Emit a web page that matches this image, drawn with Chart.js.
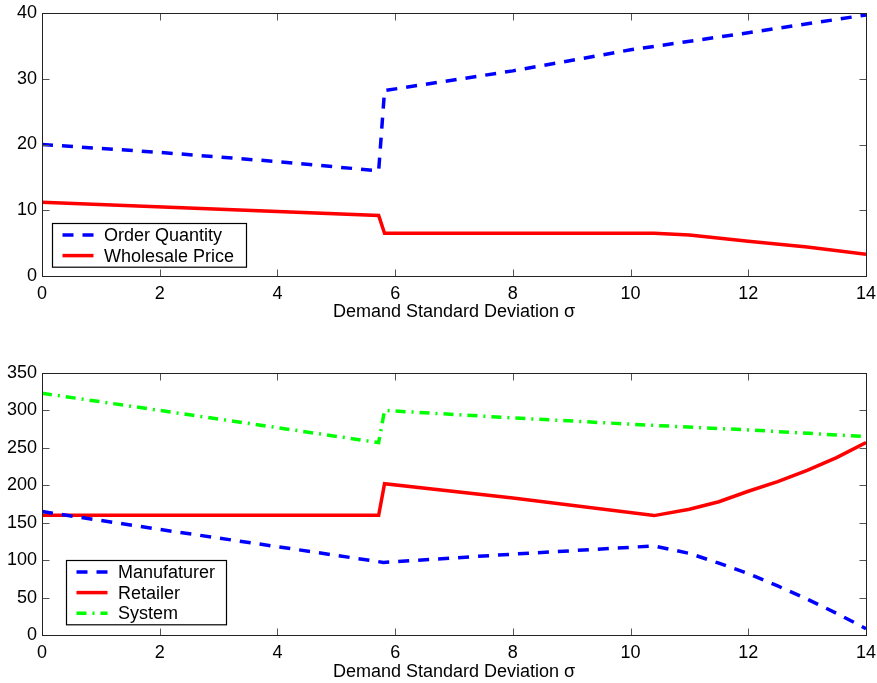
<!DOCTYPE html>
<html>
<head>
<meta charset="utf-8">
<script src="https://cdn.jsdelivr.net/npm/chart.js@4/dist/chart.umd.min.js"></script>
<style>
  html, body { margin: 0; padding: 0; background: #fff; }
  #wrap { position: relative; width: 877px; height: 683px; }
  #top { position: absolute; left: 0; top: 0; }
  #bottom { position: absolute; left: 0; top: 330px; }
</style>
</head>
<body>
<div id="wrap">
  <canvas id="top" width="877" height="330"></canvas>
  <canvas id="bottom" width="877" height="353"></canvas>
</div>
<script>
// top panel
const qtySigma = [0, 2, 4, 5.72, 5.82, 8, 10, 12, 14];
const qtyValues = [20, 18.8, 17.4, 16.0, 28.2, 31.2, 34.4, 37.0, 39.7];
const priceSigma = [0, 5.72, 5.82, 10.4, 11, 12, 13, 14];
const priceValues = [11.2, 9.2, 6.5, 6.5, 6.25, 5.3, 4.4, 3.3];

// bottom panel
const mfrSigma = [0, 2, 4, 5.8, 8, 10.4, 11, 11.5, 12, 12.5, 13, 13.5, 14];
const mfrValues = [165, 141, 118, 97, 108, 119, 109, 96, 82, 65.5, 48, 29, 8.5];
const retSigma = [0, 5.72, 5.82, 8, 10.4, 11, 11.5, 12, 12.5, 13, 13.5, 14];
const retValues = [160, 160, 202, 183, 159.5, 168, 178, 192, 205, 220, 237, 257];
const sysSigma = [0, 2, 4, 5.72, 5.82, 8, 10.4, 12, 14];
const sysValues = [323, 300, 277, 257, 300, 290, 280, 274, 265];

const xTicks = [0, 2, 4, 6, 8, 10, 12, 14];
const xTitle = "Demand Standard Deviation \u03c3";

const FONT = '"Liberation Sans", Arial, Helvetica, sans-serif';

function pts(xs, ys) {
  return xs.map((x, i) => ({ x: x, y: ys[i] }));
}

// box with inward ticks on all four sides, like the original figure
const framePlugin = {
  id: "frame",
  afterDatasetsDraw(chart) {
    const { ctx, chartArea: a, scales } = chart;
    const L = Math.round(a.left) + 0.5, R = Math.round(a.right) + 0.5;
    const T = Math.round(a.top) + 0.5, B = Math.round(a.bottom) + 0.5;
    ctx.save();
    ctx.lineWidth = 1;
    ctx.strokeStyle = "#555";
    ctx.beginPath();
    scales.x.ticks.forEach(t => {
      const px = Math.round(scales.x.getPixelForValue(t.value)) + 0.5;
      ctx.moveTo(px, B); ctx.lineTo(px, B - 7);
      ctx.moveTo(px, T); ctx.lineTo(px, T + 7);
    });
    scales.y.ticks.forEach(t => {
      const py = Math.round(scales.y.getPixelForValue(t.value)) + 0.5;
      ctx.moveTo(L, py); ctx.lineTo(L + 7, py);
      ctx.moveTo(R, py); ctx.lineTo(R - 7, py);
    });
    ctx.stroke();
    ctx.strokeStyle = "#222";
    ctx.strokeRect(L, T, R - L, B - T);
    ctx.restore();
  }
};

// legend drawn inside the plot (lower left)
const boxLegend = {
  id: "boxLegend",
  afterDraw(chart, args, opts) {
    const { ctx, chartArea: a } = chart;
    const sets = chart.data.datasets;
    const rowH = 20.6;
    const h = sets.length * rowH + 2.5;
    const x0 = Math.round(a.left + opts.left) + 0.5;
    const y0 = Math.round(a.bottom - opts.bottom - h) + 0.5;
    ctx.save();
    ctx.fillStyle = "#fff";
    ctx.fillRect(x0, y0, opts.width, h);
    ctx.lineWidth = 1.2;
    ctx.strokeStyle = "#000";
    ctx.strokeRect(x0, y0, opts.width, h);
    ctx.font = "18px " + FONT;
    ctx.textBaseline = "middle";
    sets.forEach((ds, i) => {
      const cy = y0 + 11.5 + i * rowH;
      ctx.beginPath();
      ctx.setLineDash(ds.borderDash || []);
      ctx.lineWidth = ds.borderWidth;
      ctx.strokeStyle = ds.borderColor;
      ctx.moveTo(x0 + 10, cy);
      ctx.lineTo(x0 + 41, cy);
      ctx.stroke();
      ctx.setLineDash([]);
      ctx.fillStyle = "#000";
      ctx.fillText(ds.label, x0 + 51.5, cy + 1);
    });
    ctx.restore();
  }
};

function makeChart(el, datasets, yMax, yStep, pad, xHeight, titlePad, legendOpts) {
  return new Chart(el, {
    type: "line",
    data: { datasets: datasets },
    plugins: [framePlugin, boxLegend],
    options: {
      responsive: false,
      animation: false,
      layout: { padding: pad },
      elements: { point: { radius: 0 }, line: { tension: 0 } },
      plugins: {
        legend: { display: false },
        tooltip: { enabled: false },
        boxLegend: legendOpts
      },
      scales: {
        x: {
          type: "linear",
          min: 0, max: 14,
          afterFit: s => { s.height = xHeight; s.paddingLeft = 0; s.paddingRight = 0; },
          afterBuildTicks: s => { s.ticks = xTicks.map(v => ({ value: v })); },
          grid: { display: false, drawTicks: false },
          border: { display: false },
          ticks: { color: "#000", padding: 7, font: { family: FONT, size: 18 }, maxRotation: 0 },
          title: {
            display: true, text: xTitle, color: "#000",
            font: { family: FONT, size: 18 },
            padding: { top: 0, bottom: titlePad }
          }
        },
        y: {
          min: 0, max: yMax,
          afterFit: s => { s.width = 42; s.paddingTop = 0; s.paddingBottom = 0; },
          grid: { display: false, drawTicks: false },
          border: { display: false },
          ticks: { stepSize: yStep, color: "#000", padding: 5, font: { family: FONT, size: 18 } }
        }
      }
    }
  });
}

makeChart(document.getElementById("top"), [
  { label: "Order Quantity", data: pts(qtySigma, qtyValues), borderColor: "#0000ff", borderWidth: 3.5, borderDash: [11, 9] },
  { label: "Wholesale Price", data: pts(priceSigma, priceValues), borderColor: "#ff0000", borderWidth: 3.5 }
], 40, 10, { top: 13, right: 11, left: 0, bottom: 0 }, 54, 7, { left: 10, bottom: 9, width: 194 });

makeChart(document.getElementById("bottom"), [
  { label: "Manufaturer", data: pts(mfrSigma, mfrValues), borderColor: "#0000ff", borderWidth: 3.5, borderDash: [11, 9] },
  { label: "Retailer", data: pts(retSigma, retValues), borderColor: "#ff0000", borderWidth: 3.5 },
  { label: "System", data: pts(sysSigma, sysValues), borderColor: "#00ff00", borderWidth: 3.5, borderDash: [10, 6, 2, 6] }
], 350, 50, { top: 43, right: 11, left: 0, bottom: 0 }, 48, 0.5, { left: 24, bottom: 11, width: 160 });
</script>
</body>
</html>
